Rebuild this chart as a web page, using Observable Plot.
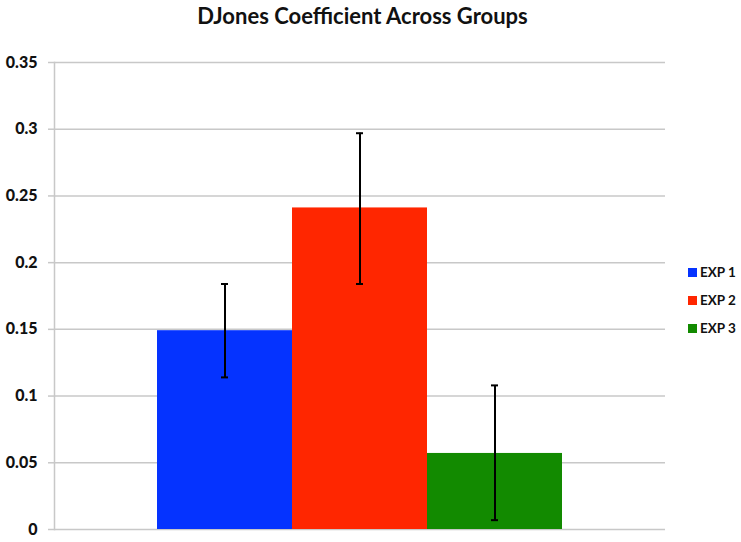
<!DOCTYPE html>
<html>
<head>
<meta charset="utf-8">
<script src="https://cdn.jsdelivr.net/npm/d3@7"></script>
<script src="https://cdn.jsdelivr.net/npm/@observablehq/plot@0.6"></script>
<style>
  html, body { margin: 0; padding: 0; background: #fff; }
  #wrap { position: relative; width: 741px; height: 542px; font-family: Lato, "Open Sans", sans-serif; }
  #title { position: absolute; left: 0; top: 2px; width: 725px; text-align: center; font-weight: bold; font-size: 22px; color: #111; }
  #legend { position: absolute; left: 688px; top: 264px; font-size: 13.5px; font-weight: bold; color: #111; }
  #legend .row { height: 28px; display: flex; align-items: flex-start; }
  #legend .sw { width: 9px; height: 9px; margin-right: 3px; margin-top: 4px; }
  #chart { position: absolute; left: 0; top: 0; }
</style>
</head>
<body>
<div id="wrap">
  <div id="chart"></div>
  <div id="title">DJones Coefficient Across Groups</div>
  <div id="legend"></div>
</div>
<script>
const groups = ["EXP 1", "EXP 2", "EXP 3"];
const means = [0.149, 0.241, 0.057];
const errLow = [0.114, 0.184, 0.007];
const errHigh = [0.184, 0.297, 0.108];
const colors = ["#0533FF", "#FF2600", "#128A00"];
const yTicks = [0, 0.05, 0.1, 0.15, 0.2, 0.25, 0.3, 0.35];

const data = groups.map((g, i) => ({group: g, mean: means[i], lo: errLow[i], hi: errHigh[i]}));

const chart = Plot.plot({
  width: 741,
  height: 542,
  marginTop: 62,
  marginBottom: 13,
  marginLeft: 54,
  marginRight: 76,
  style: {fontFamily: "Lato, 'Open Sans', sans-serif", background: "transparent"},
  x: {domain: groups, paddingInner: 0, paddingOuter: 0.75, axis: null},
  y: {domain: [0, 0.35], ticks: yTicks, axis: null},
  color: {domain: groups, range: colors},
  marks: [
    Plot.gridY(yTicks, {stroke: "#c8c8c8", strokeOpacity: 1, strokeWidth: 1.5}),
    Plot.axisY(yTicks, {
      tickSize: 6,
      tickPadding: 11,
      stroke: "#c8c8c8",
      strokeWidth: 1.5,
      fontSize: 16,
      fontWeight: "900",
      fill: "#111",
      tickFormat: d => String(+d.toFixed(2))
    }),
    Plot.frame({anchor: "left", stroke: "#c8c8c8", strokeWidth: 1.5}),
    Plot.barY(data, {x: "group", y: "mean", fill: "group"}),
    Plot.ruleX(data, {x: "group", y1: "lo", y2: "hi", stroke: "#000", strokeWidth: 2}),
    Plot.tickY(data, {x: "group", y: "lo", stroke: "#000", strokeWidth: 2, insetLeft: 64, insetRight: 64}),
    Plot.tickY(data, {x: "group", y: "hi", stroke: "#000", strokeWidth: 2, insetLeft: 64, insetRight: 64})
  ]
});
document.getElementById("chart").appendChild(chart);

const legend = document.getElementById("legend");
groups.forEach((g, i) => {
  const row = document.createElement("div");
  row.className = "row";
  const sw = document.createElement("div");
  sw.className = "sw";
  sw.style.background = colors[i];
  const lab = document.createElement("span");
  lab.textContent = g;
  row.appendChild(sw);
  row.appendChild(lab);
  legend.appendChild(row);
});
</script>
</body>
</html>
